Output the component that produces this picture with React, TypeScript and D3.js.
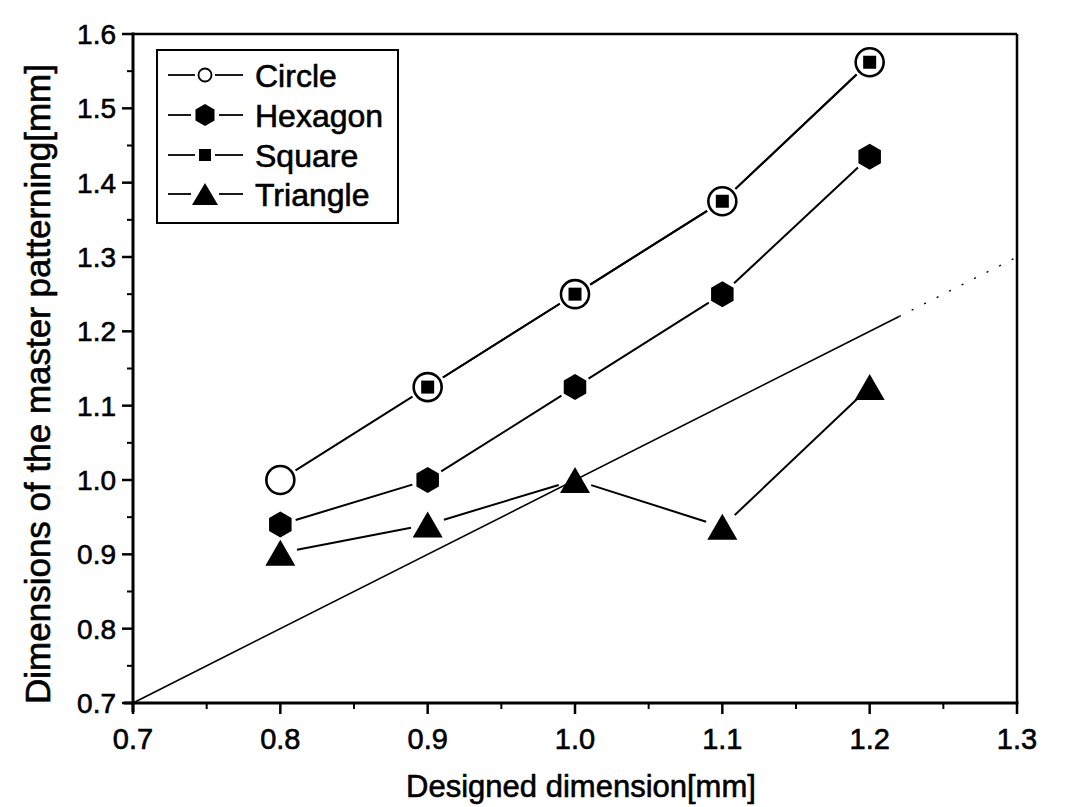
import React from 'react';
import * as d3 from 'd3';

const designed = [0.8, 0.9, 1.0, 1.1, 1.2];
const circleVals = [1.0, 1.125, 1.25, 1.375, 1.562];
const hexagonVals = [0.94, 1.0, 1.125, 1.25, 1.435];
const squareVals = [null, 1.125, 1.25, 1.375, 1.562];
const triangleVals = [0.902, 0.94, 1.0, 0.937, 1.125];
const xTicks = [0.7, 0.8, 0.9, 1.0, 1.1, 1.2, 1.3];
const yTicks = [0.7, 0.8, 0.9, 1.0, 1.1, 1.2, 1.3, 1.4, 1.5, 1.6];
const refSolid = [0.7, 1.22];
const refDashed = [1.22, 1.3];

const W = 1083;
const H = 807;
const font = "'Liberation Sans', Arial, Helvetica, sans-serif";

const x = d3.scaleLinear().domain([0.7, 1.3]).range([133, 1017]);
const y = d3.scaleLinear().domain([0.7, 1.6]).range([703, 34]);

function hexPath(r: number) {
  const pts = d3.range(6).map(i => {
    const a = Math.PI / 3 * i - Math.PI / 2;
    return [r * Math.cos(a), r * Math.sin(a)];
  });
  return 'M' + pts.map(p => p.join(',')).join('L') + 'Z';
}
function triPath(w: number, h: number) {
  return `M0,${-h / 2}L${w / 2},${h / 2}L${-w / 2},${h / 2}Z`;
}
function sqPath(s: number) {
  return `M${-s / 2},${-s / 2}h${s}v${s}h${-s}Z`;
}

type Series = { name: string; vals: (number | null)[]; gap: number };
const series: Series[] = [
  { name: 'Circle', vals: circleVals, gap: 18 },
  { name: 'Hexagon', vals: hexagonVals, gap: 16 },
  { name: 'Square', vals: squareVals, gap: 18 },
  { name: 'Triangle', vals: triangleVals, gap: 17 },
];

function points(vals: (number | null)[]) {
  return designed
    .map((d, i) => ({ d, v: vals[i] }))
    .filter(p => p.v !== null)
    .map(p => [x(p.d), y(p.v as number)]);
}

// Origin-style lines stop short of each marker
function segments(vals: (number | null)[], gap: number) {
  const pts = points(vals);
  const out: number[][] = [];
  for (let i = 0; i < pts.length - 1; i++) {
    const [x0, y0] = pts[i];
    const [x1, y1] = pts[i + 1];
    const len = Math.hypot(x1 - x0, y1 - y0);
    if (len <= gap * 2) continue;
    const ux = (x1 - x0) / len, uy = (y1 - y0) / len;
    out.push([x0 + ux * gap, y0 + uy * gap, x1 - ux * gap, y1 - uy * gap]);
  }
  return out;
}

function Marker({ name, cx, cy, legend }: { name: string; cx: number; cy: number; legend?: boolean }) {
  const t = `translate(${cx},${cy})`;
  if (name === 'Circle')
    return <circle cx={cx} cy={cy} r={legend ? 6.5 : 14} fill="#fff" stroke="#000" strokeWidth={legend ? 1.8 : 2.6} />;
  if (name === 'Hexagon') return <path transform={t} d={hexPath(legend ? 11 : 13)} fill="#000" />;
  if (name === 'Square') return <path transform={t} d={sqPath(legend ? 12 : 13)} fill="#000" />;
  return <path transform={t} d={triPath(legend ? 26 : 30, legend ? 22 : 26)} fill="#000" />;
}

export default function App() {
  const xMinor = d3.range(0.75, 1.3, 0.1);
  const yMinor = d3.range(0.75, 1.6, 0.1);
  const legendRows = [75, 115, 155, 194];
  const ink = { stroke: '#000', strokeWidth: 0.6 };

  return (
    <svg width={W} height={H} style={{ position: 'absolute', left: 0, top: 0, background: '#fff' }} fontFamily={font}>
      {/* y = x reference */}
      <line x1={x(refSolid[0])} y1={y(refSolid[0])} x2={x(refSolid[1])} y2={y(refSolid[1])} stroke="#000" strokeWidth={1.6} />
      <line x1={x(refDashed[0])} y1={y(refDashed[0])} x2={x(refDashed[1])} y2={y(refDashed[1])} stroke="#000" strokeWidth={1.4} strokeDasharray="2 12" />

      {series.map(s =>
        segments(s.vals, s.gap).map((sg, i) => (
          <line key={s.name + i} x1={sg[0]} y1={sg[1]} x2={sg[2]} y2={sg[3]} stroke="#000" strokeWidth={2} />
        ))
      )}

      {series.map(s =>
        points(s.vals).map((p, i) => <Marker key={s.name + 'm' + i} name={s.name} cx={p[0]} cy={p[1]} />)
      )}

      {/* frame */}
      <line x1={133} y1={34} x2={1017} y2={34} stroke="#000" strokeWidth={2.5} />
      <line x1={1017} y1={34} x2={1017} y2={703} stroke="#000" strokeWidth={2.5} />
      <line x1={133} y1={32.5} x2={133} y2={712} stroke="#000" strokeWidth={3} />
      <line x1={124} y1={703} x2={1018.5} y2={703} stroke="#000" strokeWidth={3} />

      {xTicks.map(t => (
        <g key={'xt' + t}>
          <line x1={x(t)} x2={x(t)} y1={703} y2={714} stroke="#000" strokeWidth={2.5} />
          <text x={x(t)} y={749} fontSize={29} textAnchor="middle" {...ink}>{t.toFixed(1)}</text>
        </g>
      ))}
      {xMinor.map(t => (
        <line key={'xm' + t} x1={x(t)} x2={x(t)} y1={703} y2={709} stroke="#000" strokeWidth={2} />
      ))}
      {yTicks.map(t => (
        <g key={'yt' + t}>
          <line x1={122} x2={133} y1={y(t)} y2={y(t)} stroke="#000" strokeWidth={2.5} />
          <text x={116} y={y(t)} dy="0.36em" fontSize={28} textAnchor="end" {...ink}>{t.toFixed(1)}</text>
        </g>
      ))}
      {yMinor.map(t => (
        <line key={'ym' + t} x1={127} x2={133} y1={y(t)} y2={y(t)} stroke="#000" strokeWidth={2} />
      ))}

      <text x={581} y={797} fontSize={31} textAnchor="middle" {...ink}>Designed dimension[mm]</text>
      <text transform={`translate(50,384) rotate(-90)`} fontSize={35} textAnchor="middle" {...ink}>
        Dimensions of the master patterning[mm]
      </text>

      {/* legend */}
      <rect x={157} y={50} width={241} height={173} fill="#fff" stroke="#000" strokeWidth={2} />
      {series.map((s, i) => {
        const cy = legendRows[i];
        const g = s.name === 'Circle' ? 10 : s.name === 'Square' ? 10 : 14;
        return (
          <g key={'lg' + s.name}>
            <line x1={168} x2={205 - g} y1={cy} y2={cy} stroke="#000" strokeWidth={1.8} />
            <line x1={205 + g} x2={243} y1={cy} y2={cy} stroke="#000" strokeWidth={1.8} />
            <Marker name={s.name} cx={205} cy={cy} legend />
            <text x={255} y={cy} dy="0.36em" fontSize={32} {...ink}>{s.name}</text>
          </g>
        );
      })}
    </svg>
  );
}
